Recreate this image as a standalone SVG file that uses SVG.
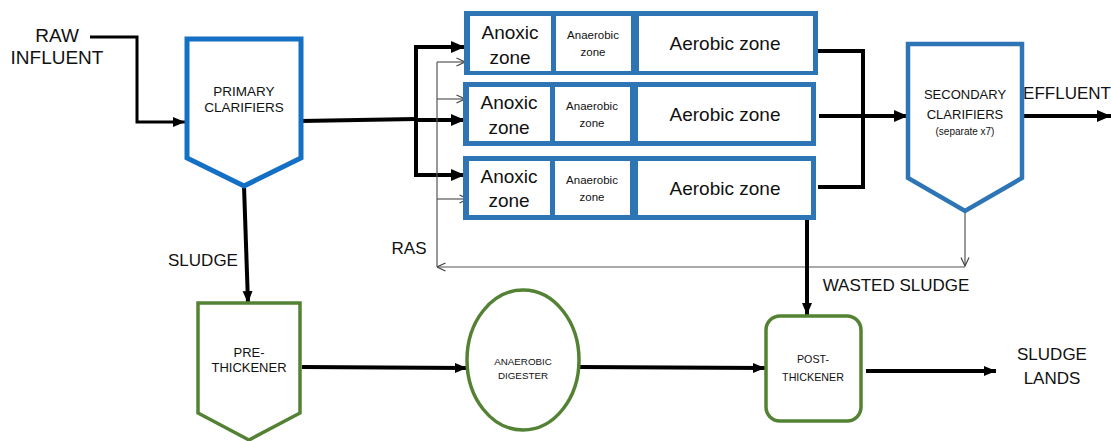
<svg xmlns="http://www.w3.org/2000/svg" width="1111" height="441" viewBox="0 0 1111 441">
<style>
.lbl{font-family:"Liberation Sans",Arial,sans-serif;fill:#111;text-anchor:middle;dominant-baseline:central}
.zone{font-family:"Liberation Sans",Arial,sans-serif;fill:#111;text-anchor:middle;dominant-baseline:central}
.thick{stroke:#000;stroke-width:4;fill:none}
.med{stroke:#000;stroke-width:3;fill:none}
.thin{stroke:#555;stroke-width:1.2;fill:none}
.cell{fill:#fff}
.row{fill:#2E75B6}
.green{fill:#fff;stroke:#548235;stroke-width:3.5}
</style>
<defs>
<marker id="ah" markerUnits="userSpaceOnUse" markerWidth="14" markerHeight="14" viewBox="0 0 14 14" refX="14" refY="7" orient="auto">
<path d="M0,1 L14,7 L0,13 Z" fill="#000"/>
</marker>
<marker id="ahs" markerUnits="userSpaceOnUse" markerWidth="12" markerHeight="12" viewBox="0 0 12 12" refX="12" refY="6" orient="auto">
<path d="M0,1 L12,6 L0,11 Z" fill="#000"/>
</marker>
<marker id="ao" markerUnits="userSpaceOnUse" markerWidth="10" markerHeight="10" viewBox="0 0 10 10" refX="9.5" refY="5" orient="auto">
<path d="M1,1 L9.5,5 L1,9" fill="none" stroke="#444" stroke-width="1.2"/>
</marker>
</defs>

<g id="connectors">
<polyline class="med" points="90,37 137,37 137,122 185,122" marker-end="url(#ahs)"/>
<polyline class="thick" points="301,121 416,119"/>
<polyline class="thick" points="416,47 416,175"/>
<line class="thick" x1="414" y1="47" x2="465" y2="47" marker-end="url(#ah)"/>
<line class="thick" x1="416" y1="120" x2="465" y2="120" marker-end="url(#ah)"/>
<line class="thick" x1="414" y1="175" x2="465" y2="175" marker-end="url(#ah)"/>
<line class="thin" x1="437" y1="62" x2="437" y2="267"/>
<line class="thin" x1="437" y1="62" x2="465" y2="62" marker-end="url(#ao)"/>
<line class="thin" x1="437" y1="99" x2="465" y2="99" marker-end="url(#ao)"/>
<line class="thin" x1="437" y1="199" x2="468" y2="199" marker-end="url(#ao)"/>
<line class="thin" x1="965" y1="213" x2="965" y2="266" marker-end="url(#ao)"/>
<line class="thin" x1="965" y1="267" x2="437" y2="267" marker-end="url(#ao)"/>
<polyline class="thick" points="818,51 863,51 863,187 818,187"/>
<line class="thick" x1="819" y1="116" x2="908" y2="116" marker-end="url(#ah)"/>
<line class="thick" x1="1022" y1="116" x2="1111" y2="116" marker-end="url(#ah)"/>
<line class="thick" x1="807" y1="220" x2="807" y2="315" marker-end="url(#ahs)"/>
<line class="thick" x1="244" y1="186" x2="248" y2="303" marker-end="url(#ahs)"/>
<line class="thick" x1="302" y1="367" x2="467" y2="368" marker-end="url(#ahs)"/>
<line class="thick" x1="579" y1="367" x2="765" y2="368" marker-end="url(#ahs)"/>
<line class="thick" x1="866" y1="371" x2="996" y2="371" marker-end="url(#ahs)"/>
</g>

<g id="labels">
<text class="lbl" x="57" y="35" font-size="19">RAW</text>
<text class="lbl" x="57" y="57" font-size="19">INFLUENT</text>
<text class="lbl" x="1067" y="93" font-size="17">EFFLUENT</text>
<text class="lbl" x="203" y="260" font-size="17">SLUDGE</text>
<text class="lbl" x="409" y="248" font-size="17">RAS</text>
<text class="lbl" x="896" y="285" font-size="17">WASTED SLUDGE</text>
<text class="lbl" x="1052" y="354" font-size="17">SLUDGE</text>
<text class="lbl" x="1052" y="378" font-size="17">LANDS</text>
</g>

<g id="primary-clarifiers">
<polygon points="187,39 301,39 301,158 244,186 187,158" fill="#fff" stroke="#1470C4" stroke-width="5"/>
<text class="lbl" x="244" y="91" font-size="13.5" fill="#222">PRIMARY</text>
<text class="lbl" x="244" y="107" font-size="13.5" fill="#222">CLARIFIERS</text>
</g>

<g id="bioreactor-1">
<rect class="row" x="464" y="11" width="354" height="64"/>
<rect class="cell" x="470" y="16" width="81" height="55"/>
<rect class="cell" x="556" y="16" width="75" height="55"/>
<rect class="cell" x="639" y="16" width="174" height="55"/>
<text class="zone" x="510" y="32" font-size="19">Anoxic</text>
<text class="zone" x="510" y="57" font-size="19">zone</text>
<text class="zone" x="593" y="35" font-size="11.5">Anaerobic</text>
<text class="zone" x="593" y="52" font-size="11.5">zone</text>
<text class="zone" x="725" y="43" font-size="19">Aerobic zone</text>
</g>

<g id="bioreactor-2">
<rect class="row" x="463" y="82" width="353" height="64"/>
<rect class="cell" x="469" y="87" width="81" height="54"/>
<rect class="cell" x="555" y="87" width="75" height="54"/>
<rect class="cell" x="638" y="87" width="173" height="54"/>
<text class="zone" x="509" y="102" font-size="19">Anoxic</text>
<text class="zone" x="509" y="127" font-size="19">zone</text>
<text class="zone" x="592" y="106" font-size="11.5">Anaerobic</text>
<text class="zone" x="592" y="123" font-size="11.5">zone</text>
<text class="zone" x="725" y="114" font-size="19">Aerobic zone</text>
</g>

<g id="bioreactor-3">
<rect class="row" x="463" y="156" width="353" height="64"/>
<rect class="cell" x="469" y="161" width="81" height="54"/>
<rect class="cell" x="555" y="161" width="75" height="54"/>
<rect class="cell" x="638" y="161" width="173" height="54"/>
<text class="zone" x="509" y="176" font-size="19">Anoxic</text>
<text class="zone" x="509" y="200" font-size="19">zone</text>
<text class="zone" x="592" y="180" font-size="11.5">Anaerobic</text>
<text class="zone" x="592" y="197" font-size="11.5">zone</text>
<text class="zone" x="725" y="188" font-size="19">Aerobic zone</text>
</g>

<g id="secondary-clarifiers">
<polygon points="908,44 1022,44 1022,178 965,211 908,178" fill="#fff" stroke="#2E75B6" stroke-width="4.5"/>
<text class="lbl" x="965" y="94" font-size="13" fill="#222">SECONDARY</text>
<text class="lbl" x="965" y="114" font-size="13" fill="#222">CLARIFIERS</text>
<text class="lbl" x="965" y="131" font-size="10" fill="#333">(separate x7)</text>
</g>

<g id="pre-thickener">
<polygon class="green" points="198,303 300,303 300,413 249,440 198,413"/>
<text class="lbl" x="249" y="352" font-size="13" fill="#222">PRE-</text>
<text class="lbl" x="249" y="367" font-size="13" fill="#222">THICKENER</text>
</g>

<g id="anaerobic-digester">
<ellipse class="green" cx="523" cy="360" rx="56" ry="70"/>
<text class="lbl" x="523" y="361" font-size="9.8" fill="#333">ANAEROBIC</text>
<text class="lbl" x="523" y="375" font-size="9.8" fill="#333">DIGESTER</text>
</g>

<g id="post-thickener">
<rect class="green" x="766" y="316" width="95" height="105" rx="14"/>
<text class="lbl" x="813" y="359" font-size="10.7" fill="#222">POST-</text>
<text class="lbl" x="813" y="377" font-size="10.7" fill="#222">THICKENER</text>
</g>
</svg>
